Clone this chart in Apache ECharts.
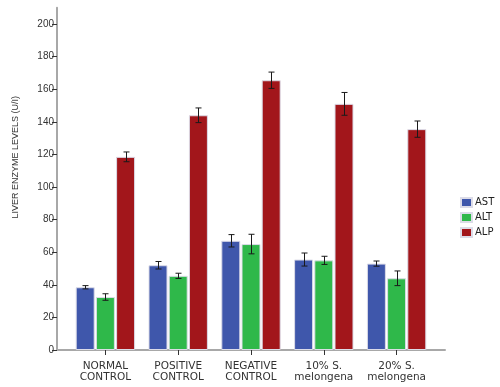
<!DOCTYPE html>
<html>
<head>
<meta charset="utf-8">
<script src="https://cdn.jsdelivr.net/npm/echarts@6/dist/echarts.min.js"></script>
<style>html,body{margin:0;padding:0;background:#fff}#c{width:500px;height:387px}</style>
</head>
<body>
<div id="c"></div>
<script>
var categories = ['NORMAL\nCONTROL', 'POSITIVE\nCONTROL', 'NEGATIVE\nCONTROL', '10% S.\nmelongena', '20% S.\nmelongena'];
var seriesNames = ['AST', 'ALT', 'ALP'];
var astValues = [38.5, 52, 67, 55.5, 53];
var altValues = [32.5, 45.5, 65, 55, 44];
var alpValues = [118.5, 144, 165.5, 151, 135.5];
var astErrors = [1, 2.3, 3.8, 4, 1.6];
var altErrors = [2, 1.6, 6, 2.5, 4.5];
var alpErrors = [3, 4.5, 5, 7, 5];
var yTicks = [0, 20, 40, 60, 80, 100, 120, 140, 160, 180, 200];

var colors = ['#3f57ab', '#2fb84a', '#a2161b'];
var values = [astValues, altValues, alpValues];
var errors = [astErrors, altErrors, alpErrors];
var BAR_W = 19, BAR_GAP = 1.2;

var chart = echarts.init(document.getElementById('c'));
var series = [];
seriesNames.forEach(function (name, i) {
  series.push({
    name: name, type: 'bar', xAxisIndex: 0, yAxisIndex: 0,
    data: values[i], barWidth: BAR_W, barGap: (BAR_GAP / BAR_W * 100) + '%',
    itemStyle: { color: colors[i], borderColor: '#dcdce8', borderWidth: 1 },
    emphasis: { disabled: true }, z: 2
  });
});
seriesNames.forEach(function (name, i) {
  var d = values[i].map(function (v, k) { return [k, v, errors[i][k]]; });
  series.push({
    type: 'custom', xAxisIndex: 0, yAxisIndex: 0, z: 5, silent: true,
    data: d,
    renderItem: function (params, api) {
      var k = api.value(0), v = api.value(1), e = api.value(2);
      var off = (i - 1) * (BAR_W + BAR_GAP);
      var top = api.coord([k, v + e]);
      var bot = api.coord([k, v - e]);
      var x = Math.round(top[0] + off) + 0.5;
      var st = { stroke: '#1a1a1a', lineWidth: 1 };
      return { type: 'group', children: [
        { type: 'line', shape: { x1: x, y1: top[1], x2: x, y2: bot[1] }, style: st },
        { type: 'line', shape: { x1: x - 3, y1: top[1], x2: x + 3, y2: top[1] }, style: st },
        { type: 'line', shape: { x1: x - 3, y1: bot[1], x2: x + 3, y2: bot[1] }, style: st }
      ]};
    }
  });
});

chart.setOption({
  animation: false,
  legend: {
    orient: 'vertical', left: 460, top: 197, padding: 0, itemWidth: 11, itemHeight: 9, itemGap: 4,
    data: seriesNames, icon: 'rect',
    textStyle: { fontFamily: 'DejaVu Sans', fontSize: 10, color: '#222', padding: [0, 0, 0, -2] }
  },
  grid: [
    { left: 69, right: 67, top: 7.7, bottom: 37 },
    { left: 57, right: 55, top: 7.7, bottom: 37 }
  ],
  xAxis: [
    { type: 'category', gridIndex: 0, data: categories,
      axisLine: { show: false },
      axisTick: { show: true, alignWithLabel: true, length: 5, lineStyle: { color: '#333' } },
      axisLabel: { fontFamily: 'DejaVu Sans', fontSize: 10.5, color: '#333', margin: 11, lineHeight: 11, interval: 0 }
    },
    { type: 'value', gridIndex: 1, min: 0, max: 1,
      axisLine: { show: true, onZero: false, lineStyle: { color: '#a8a8a8', width: 2 } },
      axisTick: { show: false }, axisLabel: { show: false }, splitLine: { show: false } }
  ],
  yAxis: [
    { type: 'value', gridIndex: 0, min: 0, max: 210, offset: 12,
      name: 'LIVER ENZYME LEVELS (U/I)', nameLocation: 'middle', nameGap: 37,
      nameTextStyle: { fontFamily: 'Liberation Sans', fontSize: 9, color: '#333', padding: [0, 0, 0, 43] },
      axisLine: { show: true, lineStyle: { color: '#a8a8a8', width: 2 } },
      axisTick: { show: true, length: 5, customValues: yTicks, lineStyle: { color: '#333' } },
      axisLabel: { customValues: yTicks, fontFamily: 'Liberation Sans', fontSize: 10, color: '#333', margin: 3 },
      splitLine: { show: false } },
    { type: 'value', gridIndex: 1, show: false }
  ],
  series: series
});
</script>
</body>
</html>
